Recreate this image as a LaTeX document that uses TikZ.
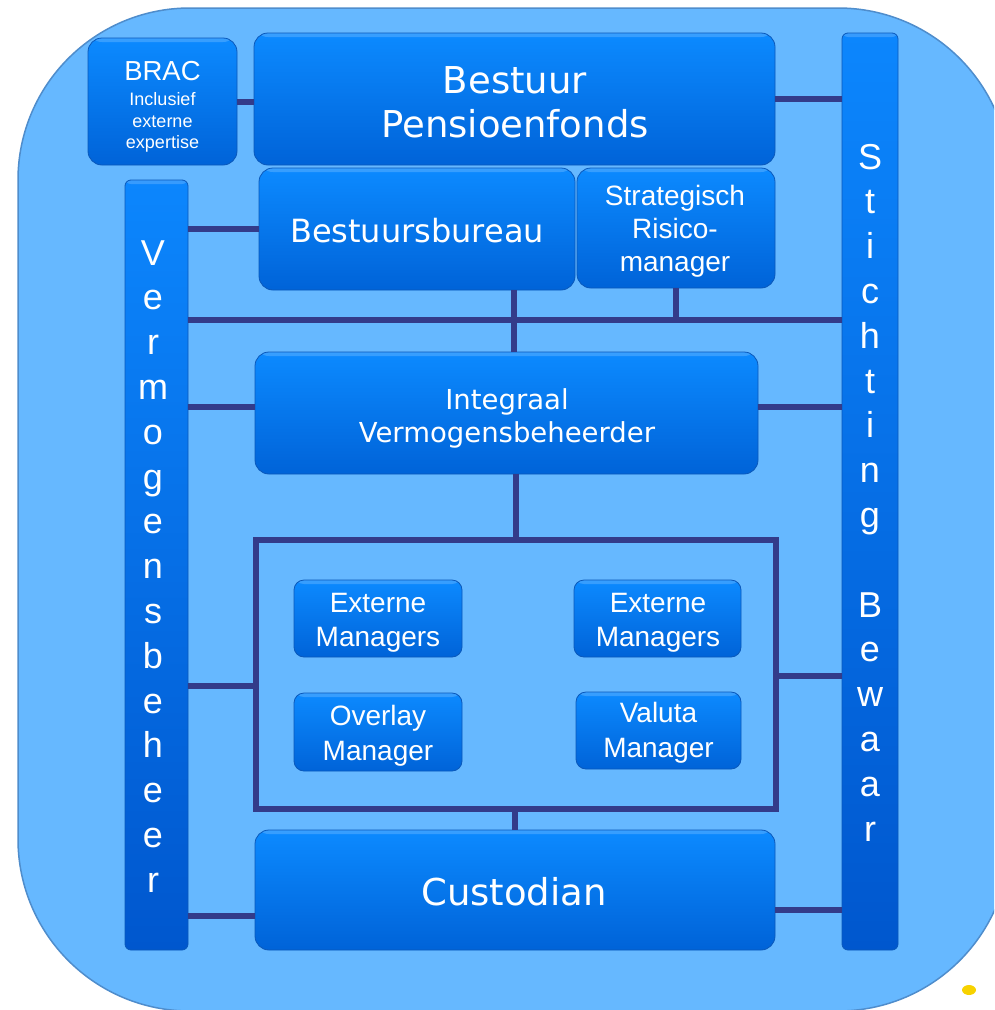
\documentclass[tikz,border=0pt]{standalone}
\usepackage{fontspec}
\setmainfont{Liberation Sans}
\newfontfamily\vfont{DejaVu Sans}
\usetikzlibrary{calc}
\definecolor{bgblue}{HTML}{66B8FF}
\definecolor{bgedge}{HTML}{4F8DCC}
\definecolor{boxtop}{HTML}{0C8AFF}
\definecolor{boxbot}{HTML}{0063D8}
\definecolor{boxedge}{HTML}{0A58BA}
\definecolor{coltop}{HTML}{0C86FD}
\definecolor{colbot}{HTML}{0057CE}
\definecolor{navy}{HTML}{333B8A}
\definecolor{dotyellow}{HTML}{F7D200}
\begin{document}
\begin{tikzpicture}[x=1pt,y=-1pt,
  gloss/.style={path picture={\fill[white,opacity=0.18]
      (path picture bounding box.north west) rectangle
      ([yshift=-4pt]path picture bounding box.north east);}},
  box/.style={draw=boxedge, line width=0.8pt, top color=boxtop, bottom color=boxbot,
    rounded corners=14pt, inner sep=0pt, outer sep=0pt, gloss},
  smallbox/.style={box, rounded corners=10pt},
  colbox/.style={draw=boxedge, line width=0.8pt, top color=coltop, bottom color=colbot,
    rounded corners=6pt, inner sep=0pt, outer sep=0pt, gloss},
  link/.style={draw=navy, line width=6pt},
  txt/.style={text=white, inner sep=0pt, anchor=base},
  vtxt/.style={txt, font=\vfont},
  bigv/.style={vtxt, font=\vfont\fontsize{37}{44}\selectfont},
  midv/.style={vtxt, font=\vfont\fontsize{27.5}{33}\selectfont},
  armid/.style={txt, font=\fontsize{28}{33}\selectfont},
  vl/.style={txt, font=\fontsize{36}{44}\selectfont}
]
\useasboundingbox (0,0) rectangle (994,1010);
\begin{scope}
  \clip (0,0) rectangle (994,1010);
  \fill[bgblue, draw=bgedge, line width=1.5pt, rounded corners=172pt] (18,8) rectangle (1010,1011);
\end{scope}

% boxes
\node[box, minimum width=149pt, minimum height=127pt] (brac) at (162.5,101.5) {};
\node[box, minimum width=521pt, minimum height=132pt] (bestuur) at (514.5,99) {};
\node[colbox, minimum width=56pt, minimum height=917pt] (stichting) at (870,491.5) {};
\node[colbox, minimum width=63pt, minimum height=770pt] (verm) at (156.5,565) {};
\node[box, minimum width=316pt, minimum height=122pt] (bureau) at (417,229) {};
\node[box, minimum width=198pt, minimum height=120pt] (srm) at (676,228) {};
\node[box, minimum width=503pt, minimum height=122pt] (integraal) at (506.5,413) {};
\node[draw=navy, line width=6pt, inner sep=0pt, outer sep=3pt,
      minimum width=520pt, minimum height=269pt] (group) at (516,674.5) {};
\node[smallbox, minimum width=168pt, minimum height=77pt] (em1) at (378,618.5) {};
\node[smallbox, minimum width=168pt, minimum height=78pt] (ov) at (378,732) {};
\node[smallbox, minimum width=167pt, minimum height=77pt] (em2) at (657.5,618.5) {};
\node[smallbox, minimum width=165pt, minimum height=77pt] (val) at (658.5,730.5) {};
\node[box, minimum width=520pt, minimum height=120pt] (cust) at (515,890) {};

% connectors
\coordinate (bus) at (514,320);
\draw[link] (brac.east) -- (brac.east -| bestuur.west);
\draw[link] (bestuur.east) -- (bestuur.east -| stichting.west);
\draw[link] (bureau.west -| verm.east) -- (bureau.west);
\draw[link] (bus -| verm.east) -- (bus -| stichting.west);
\draw[link] (bus |- bureau.south) -- (bus);
\draw[link] (srm.south) -- (srm.south |- bus);
\draw[link] (bus) -- (bus |- integraal.north);
\draw[link] ([yshift=6pt]integraal.west -| verm.east) -- ([yshift=6pt]integraal.west);
\draw[link] ([yshift=6pt]integraal.east) -- ([yshift=6pt]integraal.east -| stichting.west);
\draw[link] (group.north |- integraal.south) -- (group.north);
\draw[link] ([yshift=-11.5pt]group.west) -- ([yshift=-11.5pt]group.west -| verm.east);
\draw[link] ([yshift=-1.5pt]group.east) -- ([yshift=-1.5pt]group.east -| stichting.west);
\draw[link] (group.south -| cust.north) -- (cust.north);
\draw[link] ([yshift=-26pt]cust.west -| verm.east) -- ([yshift=-26pt]cust.west);
\draw[link] ([yshift=-20pt]cust.east) -- ([yshift=-20pt]cust.east -| stichting.west);

% texts
\node[txt, font=\fontsize{27.5}{30}\selectfont] (tbrac1) at (162.5,80) {BRAC};
\node[txt, font=\fontsize{18}{22}\selectfont] (tbrac2) at (162.5,105) {Inclusief};
\node[txt, font=\fontsize{18}{22}\selectfont] (tbrac3) at (162.5,127) {externe};
\node[txt, font=\fontsize{18}{22}\selectfont] (tbrac4) at (162.5,148) {expertise};
\node[bigv] (tbest1) at (515,93) {Bestuur};
\node[bigv] (tbest2) at (515,137) {Pensioenfonds};
\node[vtxt, font=\vfont\fontsize{32}{38}\selectfont] (tbur) at (417,242) {Bestuursbureau};
\node[armid] (tsrm1) at (675,205) {Strategisch};
\node[armid] (tsrm2) at (675,238) {Risico-};
\node[armid] (tsrm3) at (675,271.5) {manager};
\node[midv] (tint1) at (507,409) {Integraal};
\node[midv] (tint2) at (507,442) {Vermogensbeheerder};
\node[armid] (tem1a) at (378,612) {Externe};
\node[armid] (tem1b) at (378,646) {Managers};
\node[armid] (tova) at (378,725) {Overlay};
\node[armid] (tovb) at (378,760) {Manager};
\node[armid] (tem2a) at (658,612) {Externe};
\node[armid] (tem2b) at (658,646) {Managers};
\node[armid] (tvala) at (658.5,722) {Valuta};
\node[armid] (tvalb) at (658.5,757) {Manager};
\node[bigv] (tcust) at (514,905) {Custodian};

% vertical letters
\foreach \l [count=\i from 0] in {V,e,r,m,o,g,e,n,s,b,e,h,e,e,r}
  \node[vl] (vm\i) at (153,{265+44.8*\i}) {\l};
\foreach \l [count=\i from 0] in {S,t,i,c,h,t,i,n,g,{},B,e,w,a,a,r}
  \node[vl] (sb\i) at (870,{169+44.8*\i}) {\l};

% yellow dot
\fill[dotyellow] (969,990) ellipse [x radius=7pt, y radius=5pt];
\end{tikzpicture}
\end{document}
